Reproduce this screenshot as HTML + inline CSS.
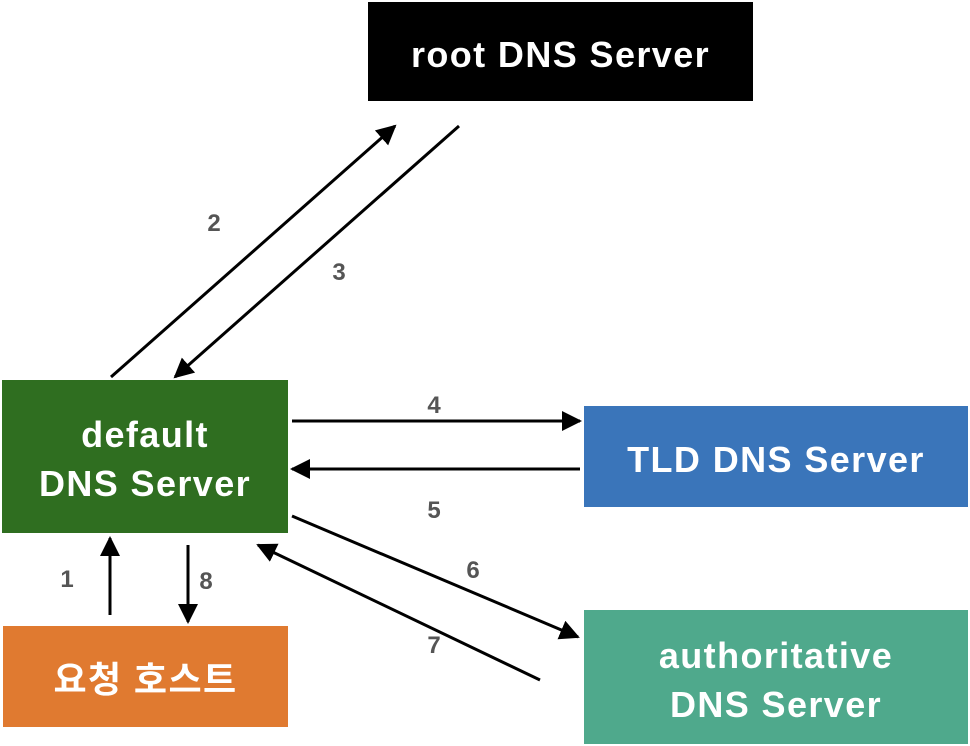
<!DOCTYPE html>
<html><head><meta charset="utf-8"><style>
body{margin:0;background:#fff;width:970px;height:746px;overflow:hidden;position:relative;font-family:"Liberation Sans","Noto Sans CJK KR",sans-serif}
.b{position:absolute;color:#fff;font-weight:bold;font-size:36px;letter-spacing:1.4px;display:flex;align-items:center;justify-content:center;text-align:center;line-height:49px;padding-top:5px;box-sizing:border-box}
svg{position:absolute;left:0;top:0}
</style></head><body>
<div class="b" style="left:368px;top:2px;width:385px;height:99px;background:#000">root DNS Server</div>
<div class="b" style="left:2px;top:380px;width:286px;height:153px;background:#2f6e20">default<br>DNS Server</div>
<div class="b" style="left:584px;top:406px;width:384px;height:101px;background:#3a75ba">TLD DNS Server</div>
<div class="b" style="left:3px;top:626px;width:285px;height:101px;background:#e07a30">요청 호스트</div>
<div class="b" style="left:584px;top:610px;width:384px;height:134px;background:#4fa98c">authoritative<br>DNS Server</div>
<svg width="970" height="746">
<defs>
<marker id="m" viewBox="0 0 10 10" refX="9" refY="5" markerWidth="20" markerHeight="20" orient="auto" markerUnits="userSpaceOnUse"><path d="M0,0 L10,5 L0,10z"/></marker></defs>
<g stroke="#000" stroke-width="3" fill="none" marker-end="url(#m)">
<line x1="111" y1="377" x2="395" y2="126"/>
<line x1="459" y1="126" x2="175" y2="377"/>
<line x1="292" y1="421" x2="580" y2="421"/>
<line x1="580" y1="469" x2="292" y2="469"/>
<line x1="292" y1="516" x2="578" y2="637"/>
<line x1="540" y1="680" x2="258" y2="545"/>
<line x1="110" y1="615" x2="110" y2="538"/>
<line x1="188" y1="545" x2="188" y2="622"/>
</g>
<g fill="#555" font-weight="bold" font-size="24" font-family="Liberation Sans" text-anchor="middle">
<text x="214" y="231">2</text><text x="339" y="280">3</text><text x="434" y="413">4</text>
<text x="434" y="518">5</text><text x="473" y="578">6</text><text x="434" y="653">7</text>
<text x="67" y="587">1</text><text x="206" y="589">8</text>
</g>
</svg>
</body></html>
